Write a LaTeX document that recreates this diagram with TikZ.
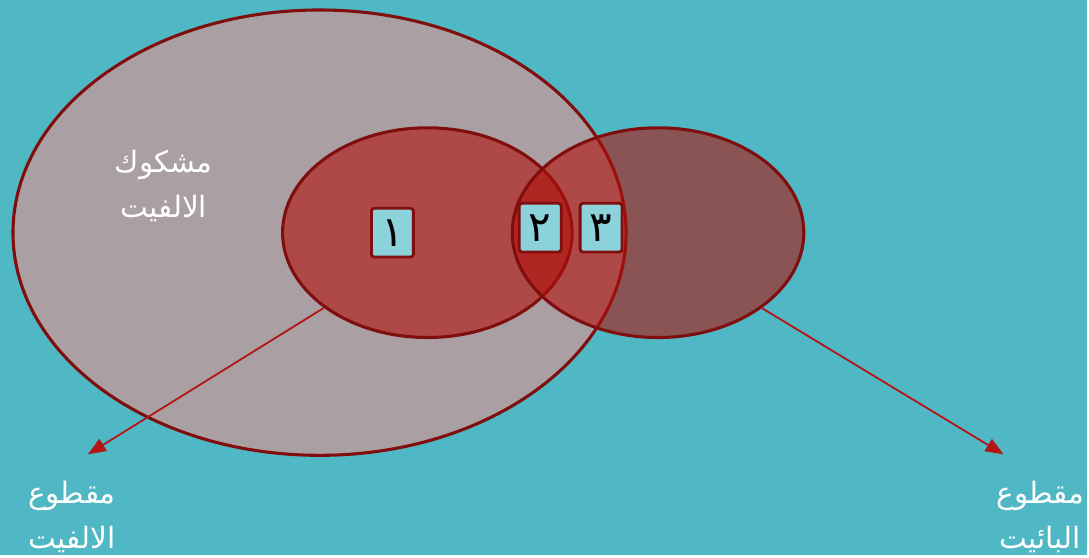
\documentclass[tikz,border=0pt]{standalone}
\usepackage{fontspec}
\newfontfamily\arabicfont[Script=Arabic]{DejaVu Sans}
\TeXXeTstate=1
\usetikzlibrary{shapes.geometric,arrows.meta}

\definecolor{seablue}{RGB}{80,184,196}
\definecolor{greyrose}{RGB}{170,160,163}
\definecolor{darkred}{RGB}{128,14,14}
\definecolor{brightred}{RGB}{178,16,10}
\definecolor{arrowred}{RGB}{180,22,22}
\definecolor{lightcyan}{RGB}{140,210,218}

\begin{document}
\begin{tikzpicture}[
  setline/.style={draw=darkred, line width=2.2pt},
  subset/.style={ellipse, setline, fill=brightred, fill opacity=0.6, draw opacity=1, inner sep=0pt},
  numbox/.style={draw=darkred, line width=2pt, fill=lightcyan, rounded corners=2pt, minimum width=1.05cm, minimum height=1.22cm, inner sep=0pt, font=\arabicfont\fontsize{30}{30}\selectfont},
  label/.style={text=white, align=center, font=\arabicfont\fontsize{21}{32}\selectfont},
  pointer/.style={draw=arrowred, line width=1.3pt, -{Triangle[length=0.45cm,width=0.35cm]}}
]
\fill[seablue] (0,0) rectangle (27.225,13.9);

% sets
\node[ellipse, setline, fill=greyrose, inner sep=0pt, minimum width=15.35cm, minimum height=11.15cm] (whole) at (8.0,8.075) {};
\node[subset, minimum width=7.25cm, minimum height=5.25cm] (alef) at (10.7,8.075) {};
\node[subset, minimum width=7.3cm, minimum height=5.25cm] (ba) at (16.475,8.075) {};

% numbered regions
\node[numbox] (one) at (9.825,8.075) {\beginR ١\endR};
\node[numbox] (two) at (13.525,8.2) {\beginR ٢\endR};
\node[numbox] (three) at (15.05,8.2) {\beginR ٣\endR};

% labels
\node[label] (doubt) at (4.1,9.25) {\beginR مشكوك\endR\\\beginR الالفيت\endR};
\node[label] (cutalef) at (1.8,0.95) {\beginR مقطوع\endR\\\beginR الالفيت\endR};
\node[label] (cutba) at (26.05,0.95) {\beginR مقطوع\endR\\\beginR البائيت\endR};

\coordinate (alefend) at (2.2,2.525);
\coordinate (baend) at (25.125,2.525);
\draw[pointer] (alef.216) -- (alefend);
\draw[pointer] (ba.-36) -- (baend);

\useasboundingbox (0,0) rectangle (27.225,13.9);
\end{tikzpicture}
\end{document}
